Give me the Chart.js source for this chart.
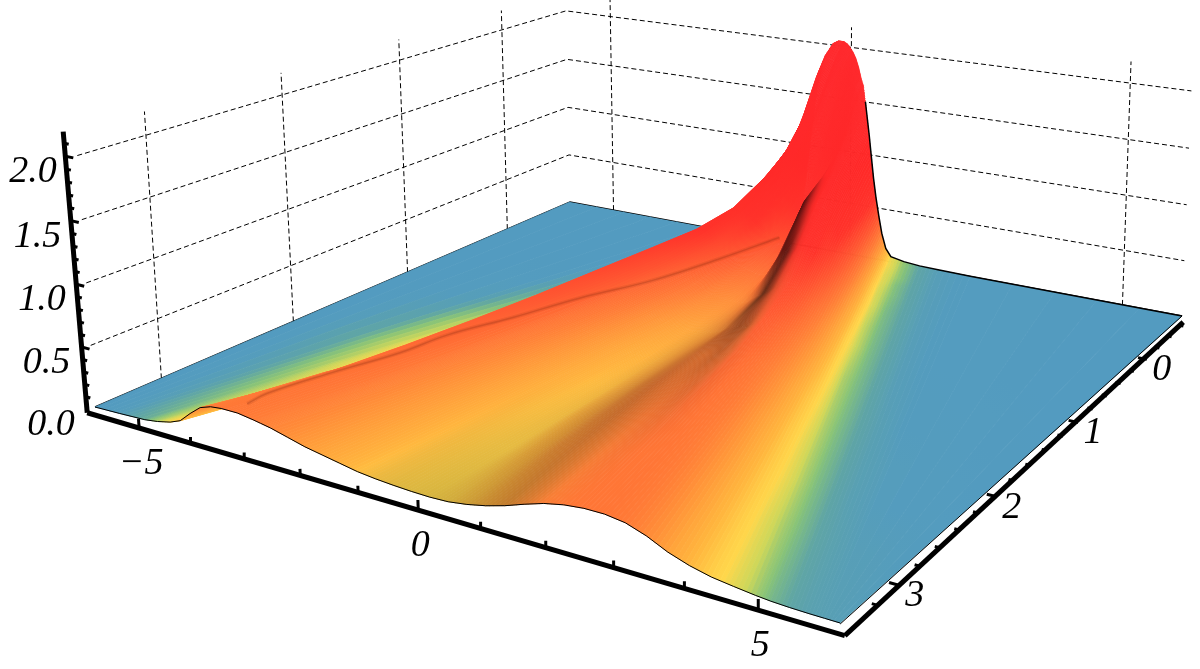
<!DOCTYPE html>
<html>
<head>
<meta charset="utf-8">
<style>
  html, body { margin: 0; padding: 0; background: #fff; }
  canvas { display: block; }
</style>
<script src="https://cdn.jsdelivr.net/npm/chart.js@4"></script>
</head>
<body>
<canvas id="surfaceChart" width="1200" height="669"></canvas>
<script>
// data range of the box
const xMin = -6, xMax = 6, tMin = -0.7, tMax = 3.45, zTop = 2.19;

// t value of each row along the rays
const rowT = [-0.7, -0.62, -0.53, -0.41, -0.29, -0.12, 0.13, 0.42, 0.75, 1.17, 1.58, 2.0, 2.41, 2.83, 3.45];

// every ray runs from x at t = tMin to x at t = tMax
const rayStartX = [-6, -3, -1.7, -1.3, -1.08, -0.94, -0.8, -0.64, -0.5, -0.35, -0.25, -0.15, -0.12, -0.08, -0.04, 0, 0.03, 0.05, 0.07, 0.09, 0.11, 0.13, 0.15, 0.17, 0.19, 0.22, 0.24, 0.26, 0.28, 0.3, 0.33, 0.36, 0.4, 0.45, 0.5, 0.56, 0.62, 0.7, 0.8, 1.05, 1.35, 1.7, 2.3, 6];
const rayEndX = [-6, -5.5, -5, -4.75, -4.5, -4.3, -4.1, -3.9, -3.7, -3.5, -3.2, -2.9, -2.78, -2.6, -2.3, -2, -1.7, -1.4, -1.1, -0.8, -0.5, -0.2, 0.1, 0.4, 0.7, 1, 1.3, 1.6, 1.9, 2.2, 2.5, 2.8, 3.1, 3.4, 3.7, 4, 4.3, 4.6, 4.9, 5.1, 5.35, 5.6, 5.8, 6];

// surface height along each ray, one value per row
const rayHeights = [
  [0, 0, 0, 0, 0, 0, 0, 0, 0, 0, 0, 0, 0, 0, 0],
  [0, 0, 0, 0, 0, 0, 0, 0.002, 0.004, 0.007, 0.011, 0.013, 0.011, 0.009, 0.006],
  [0.002, 0.002, 0.004, 0.005, 0.007, 0.01, 0.012, 0.014, 0.018, 0.026, 0.034, 0.035, 0.03, 0.024, 0.015],
  [0.015, 0.016, 0.018, 0.02, 0.022, 0.027, 0.03, 0.035, 0.04, 0.05, 0.055, 0.055, 0.045, 0.035, 0.03],
  [0.1, 0.085, 0.07, 0.06, 0.055, 0.055, 0.06, 0.065, 0.07, 0.08, 0.08, 0.07, 0.06, 0.05, 0.055],
  [0.42, 0.32, 0.25, 0.17, 0.13, 0.11, 0.1, 0.11, 0.12, 0.12, 0.1, 0.09, 0.08, 0.08, 0.09],
  [1, 0.75, 0.55, 0.38, 0.3, 0.27, 0.27, 0.25, 0.21, 0.17, 0.14, 0.12, 0.11, 0.13, 0.17],
  [1.65, 1.3, 1, 0.7, 0.52, 0.42, 0.38, 0.34, 0.28, 0.24, 0.2, 0.17, 0.15, 0.2, 0.24],
  [1.9, 1.7, 1.42, 0.98, 0.8, 0.66, 0.55, 0.48, 0.4, 0.34, 0.3, 0.26, 0.22, 0.27, 0.27],
  [2.02, 1.88, 1.62, 1.3, 1.08, 0.9, 0.7, 0.6, 0.55, 0.49, 0.43, 0.38, 0.34, 0.31, 0.28],
  [2.05, 1.9, 1.7, 1.42, 1.18, 0.96, 0.74, 0.6, 0.5, 0.44, 0.4, 0.35, 0.32, 0.3, 0.28],
  [2.05, 1.88, 1.66, 1.37, 1.12, 0.9, 0.68, 0.54, 0.44, 0.37, 0.33, 0.3, 0.28, 0.27, 0.26],
  [2.04, 1.87, 1.65, 1.35, 1.1, 0.88, 0.66, 0.5, 0.4, 0.325, 0.29, 0.27, 0.255, 0.25, 0.25],
  [2.03, 1.86, 1.62, 1.32, 1.06, 0.84, 0.62, 0.47, 0.37, 0.3, 0.27, 0.25, 0.24, 0.235, 0.235],
  [2.01, 1.84, 1.58, 1.27, 1.0, 0.78, 0.58, 0.43, 0.33, 0.27, 0.24, 0.22, 0.21, 0.2, 0.2],
  [1.98, 1.82, 1.55, 1.22, 0.95, 0.73, 0.54, 0.4, 0.3, 0.24, 0.21, 0.19, 0.18, 0.17, 0.165],
  [1.96, 1.8, 1.52, 1.18, 0.9, 0.69, 0.5, 0.37, 0.28, 0.21, 0.18, 0.165, 0.155, 0.15, 0.14],
  [1.94, 1.78, 1.5, 1.15, 0.87, 0.66, 0.47, 0.34, 0.25, 0.19, 0.16, 0.145, 0.135, 0.125, 0.115],
  [1.92, 1.76, 1.48, 1.13, 0.85, 0.63, 0.45, 0.32, 0.23, 0.17, 0.14, 0.125, 0.115, 0.1, 0.09],
  [1.9, 1.75, 1.47, 1.12, 0.84, 0.62, 0.44, 0.31, 0.22, 0.155, 0.125, 0.11, 0.095, 0.085, 0.075],
  [1.87, 1.73, 1.46, 1.12, 0.85, 0.62, 0.44, 0.3, 0.21, 0.145, 0.115, 0.095, 0.085, 0.075, 0.065],
  [1.84, 1.71, 1.45, 1.13, 0.87, 0.64, 0.44, 0.3, 0.205, 0.14, 0.11, 0.09, 0.08, 0.068, 0.058],
  [1.81, 1.7, 1.45, 1.15, 0.9, 0.68, 0.48, 0.31, 0.21, 0.14, 0.11, 0.09, 0.078, 0.065, 0.055],
  [1.77, 1.68, 1.45, 1.18, 0.95, 0.76, 0.58, 0.36, 0.22, 0.15, 0.13, 0.12, 0.11, 0.09, 0.06],
  [1.73, 1.66, 1.46, 1.22, 1.02, 0.9, 0.78, 0.47, 0.25, 0.17, 0.16, 0.15, 0.14, 0.12, 0.08],
  [1.68, 1.62, 1.46, 1.26, 1.1, 1.0, 0.88, 0.56, 0.3, 0.2, 0.2, 0.2, 0.19, 0.17, 0.11],
  [1.65, 1.58, 1.46, 1.3, 1.17, 1.02, 0.85, 0.55, 0.33, 0.25, 0.24, 0.24, 0.22, 0.2, 0.15],
  [1.58, 1.52, 1.42, 1.3, 1.18, 1.04, 0.85, 0.57, 0.37, 0.27, 0.25, 0.25, 0.24, 0.22, 0.2],
  [1.5, 1.46, 1.38, 1.27, 1.16, 1.04, 0.88, 0.62, 0.42, 0.28, 0.26, 0.26, 0.26, 0.25, 0.245],
  [1.42, 1.39, 1.32, 1.22, 1.12, 1.01, 0.87, 0.64, 0.46, 0.33, 0.28, 0.28, 0.28, 0.28, 0.275],
  [1.3, 1.27, 1.22, 1.14, 1.05, 0.96, 0.84, 0.64, 0.48, 0.39, 0.34, 0.32, 0.3, 0.29, 0.29],
  [1.18, 1.15, 1.11, 1.04, 0.97, 0.88, 0.78, 0.6, 0.46, 0.37, 0.32, 0.3, 0.29, 0.29, 0.29],
  [1.0, 0.98, 0.95, 0.9, 0.84, 0.77, 0.68, 0.53, 0.41, 0.33, 0.29, 0.28, 0.27, 0.27, 0.27],
  [0.78, 0.76, 0.74, 0.7, 0.66, 0.61, 0.55, 0.44, 0.34, 0.28, 0.25, 0.24, 0.23, 0.225, 0.22],
  [0.6, 0.58, 0.57, 0.54, 0.51, 0.47, 0.42, 0.35, 0.28, 0.23, 0.2, 0.18, 0.17, 0.16, 0.15],
  [0.42, 0.41, 0.4, 0.38, 0.36, 0.33, 0.3, 0.25, 0.2, 0.17, 0.14, 0.125, 0.115, 0.105, 0.1],
  [0.26, 0.25, 0.24, 0.23, 0.22, 0.2, 0.18, 0.15, 0.13, 0.11, 0.09, 0.08, 0.075, 0.07, 0.065],
  [0.12, 0.12, 0.11, 0.105, 0.1, 0.09, 0.085, 0.075, 0.065, 0.06, 0.055, 0.05, 0.05, 0.045, 0.045],
  [0.05, 0.05, 0.05, 0.045, 0.045, 0.04, 0.04, 0.035, 0.035, 0.03, 0.03, 0.03, 0.03, 0.028, 0.027],
  [0.025, 0.025, 0.025, 0.025, 0.022, 0.022, 0.02, 0.02, 0.02, 0.02, 0.02, 0.02, 0.02, 0.02, 0.018],
  [0.012, 0.012, 0.012, 0.012, 0.012, 0.012, 0.012, 0.012, 0.012, 0.012, 0.012, 0.012, 0.012, 0.012, 0.012],
  [0.007, 0.007, 0.007, 0.007, 0.007, 0.007, 0.007, 0.007, 0.007, 0.007, 0.008, 0.008, 0.008, 0.009, 0.009],
  [0.004, 0.004, 0.004, 0.004, 0.004, 0.004, 0.004, 0.004, 0.004, 0.005, 0.005, 0.006, 0.006, 0.007, 0.008],
  [0, 0, 0, 0, 0, 0, 0, 0, 0, 0, 0.001, 0.002, 0.003, 0.005, 0.007]
];

// darkening of the streaks: ray index, then one value per row
const rayShade = {
  19: [0, 0, 0, 0, 0, 0, 0, 0, 0, 0, 0, 0, 0.02, 0.05, 0.08],
  20: [0, 0, 0, 0, 0, 0, 0, 0, 0, 0, 0, 0, 0.03, 0.07, 0.12],
  21: [0, 0, 0, 0, 0, 0, 0, 0, 0, 0, 0, 0.02, 0.05, 0.09, 0.14],
  22: [0, 0, 0, 0, 0, 0, 0, 0, 0, 0.03, 0.05, 0.06, 0.08, 0.1, 0.16],
  23: [0, 0, 0, 0, 0, 0, 0.08, 0.02, 0.03, 0.07, 0.09, 0.11, 0.13, 0.14, 0.18],
  24: [0, 0, 0, 0, 0, 0, 0.35, 0.2, 0.08, 0.11, 0.14, 0.17, 0.18, 0.18, 0.2],
  25: [0, 0, 0, 0, 0, 0.05, 0.68, 0.62, 0.22, 0.17, 0.2, 0.22, 0.22, 0.21, 0.22],
  26: [0, 0, 0, 0, 0, 0, 0.25, 0.6, 0.62, 0.3, 0.22, 0.23, 0.23, 0.22, 0.24],
  27: [0, 0, 0, 0, 0, 0, 0.05, 0.25, 0.42, 0.4, 0.18, 0.16, 0.15, 0.14, 0.15],
  28: [0, 0, 0, 0, 0, 0, 0, 0.05, 0.15, 0.32, 0.25, 0.14, 0.08, 0.04, 0.02],
  29: [0, 0, 0, 0, 0, 0, 0, 0, 0.03, 0.1, 0.15, 0.14, 0.08, 0.03, 0],
  30: [0, 0, 0, 0, 0, 0, 0, 0, 0, 0, 0.04, 0.05, 0.03, 0, 0]
};

// faint crease below the crest, read as points on the surface
const creaseT = [0, 0.42, 0.88, 1.375, 1.79, 2.2, 2.41, 2.83, 3.24, 3.4];
const creaseX = [-0.3, -0.75, -1.2, -1.65, -2.07, -2.4, -2.82, -3.06, -3.21, -3.15];
const creaseZ = [0.43, 0.37, 0.335, 0.357, 0.34, 0.355, 0.265, 0.29, 0.32, 0.33];

// colour by height
const paletteZ = [0, 0.005, 0.012, 0.022, 0.035, 0.055, 0.1, 0.17, 0.26, 0.4, 0.6, 1, 2.2];
const paletteRGB = [[83, 155, 192], [84, 156, 190], [95, 165, 165], [135, 195, 120], [205, 215, 90], [255, 215, 75], [255, 182, 62], [255, 155, 58], [255, 125, 55], [255, 90, 50], [255, 50, 42], [255, 40, 40], [255, 40, 45]];

// tick marks
const xTickLabels = ['\u22125', '0', '5'];
const xTickValues = [-5, 0, 5];
const tTickLabels = ['0', '1', '2', '3'];
const tTickValues = [0, 1, 2, 3];
const zTickLabels = ['0.0', '0.5', '1.0', '1.5', '2.0'];
const zTickValues = [0, 0.5, 1, 1.5, 2];

// fixed view of the box, same numbers as the picture
function project(x, t, z) {
    const u = (x - xMin) / (xMax - xMin);
    const v = (t - tMin) / (tMax - tMin);
    const w = 1 - 0.15765 * u - 0.25089 * v - 0.0095 * z;
    return {
        x: (425.7 * u - 498.8 * v + 570 - 7.38 * z) / w,
        y: (64.2 * u + 102.9 * v + 202 - 95.67 * z) / w
    };
}

function rayX(j, t) {
    return rayStartX[j] + (rayEndX[j] - rayStartX[j]) * (t - tMin) / (tMax - tMin);
}

function rayPoints(j) {
    return rowT.map((t, r) => project(rayX(j, t), t, rayHeights[j][r]));
}

function colourFor(z, shade) {
    let i = 0;
    while (i < paletteZ.length - 2 && z > paletteZ[i + 1]) i++;
    const f = Math.min(1, (z - paletteZ[i]) / (paletteZ[i + 1] - paletteZ[i]));
    const rgb = paletteRGB[i].map((c, k) => (c + (paletteRGB[i + 1][k] - c) * f) * (1 - shade));
    return 'rgb(' + rgb.map(Math.round).join(',') + ')';
}

// corners of one slice of the flat quad strip between ray j and ray j + 1
function slicePoints(j, f0, f1) {
    const a = rayPoints(j), b = rayPoints(j + 1);
    const mix = f => a.map((p, r) => ({ x: p.x + (b[r].x - p.x) * f, y: p.y + (b[r].y - p.y) * f }));
    return mix(f0).concat(mix(f1).reverse());
}

// gradient along one slice, so the colour runs smoothly across rows and rays
function sliceGradient(chart, j, f) {
    const sx = chart.scales.x, sy = chart.scales.y;
    if (!sx || !sy || !chart.chartArea) return '#539bc0';
    const a = rayPoints(j), b = rayPoints(j + 1);
    const mid = a.map((p, r) => ({
        x: sx.getPixelForValue(p.x + (b[r].x - p.x) * f),
        y: sy.getPixelForValue(p.y + (b[r].y - p.y) * f)
    }));
    const first = mid[0], last = mid[mid.length - 1];
    if (!isFinite(first.x) || !isFinite(first.y)) return '#539bc0';
    const dx = last.x - first.x, dy = last.y - first.y;
    const len2 = Math.max(1, dx * dx + dy * dy);
    const g = chart.ctx.createLinearGradient(first.x, first.y, last.x, last.y);
    let prev = 0;
    mid.forEach((p, r) => {
        const off = Math.min(1, Math.max(prev, ((p.x - first.x) * dx + (p.y - first.y) * dy) / len2));
        prev = off;
        const z = rayHeights[j][r] + (rayHeights[j + 1][r] - rayHeights[j][r]) * f;
        const shadeA = rayShade[j] ? rayShade[j][r] : 0;
        const shadeB = rayShade[j + 1] ? rayShade[j + 1][r] : 0;
        g.addColorStop(off, colourFor(z, shadeA + (shadeB - shadeA) * f));
    });
    return g;
}

function line3d(points, color, width, dash) {
    return {
        data: points,
        showLine: true,
        fill: false,
        borderColor: color,
        borderWidth: width,
        borderDash: dash || [],
        pointRadius: 0,
        borderCapStyle: 'butt'
    };
}

const datasets = [];

// dashed grid on the two back walls
const gridDash = [5, 3];
[0.5, 1, 1.5, 2].forEach(z => {
    datasets.push(line3d([project(xMin, tMax, z), project(xMin, tMin, z), project(xMax, tMin, z)], '#000', 1, gridDash));
});
[0, 1, 2, 3].forEach(t => {
    datasets.push(line3d([project(xMin, t, 0), project(xMin, t, zTop)], '#000', 1, gridDash));
});
[-5, 0, 5].forEach(x => {
    datasets.push(line3d([project(x, tMin, 0), project(x, tMin, zTop)], '#000', 1, gridDash));
});

// back outline of the floor, the surface hides part of it
datasets.push(line3d([project(xMin, tMax, 0), project(xMin, tMin, 0), project(xMax, tMin, 0)], '#000', 1.5));

// surface, painted from the far side to the near side
const slices = 5;
for (let j = 0; j < rayStartX.length - 1; j++) {
    for (let k = 0; k < slices; k++) {
        const f = (k + 0.5) / slices;
        datasets.push({
            data: slicePoints(j, k / slices, (k + 1) / slices),
            showLine: true,
            fill: 'shape',
            pointRadius: 0,
            borderWidth: 0.8,
            backgroundColor: ctx => sliceGradient(ctx.chart, j, f),
            borderColor: ctx => sliceGradient(ctx.chart, j, f)
        });
    }
}

// crease on the surface
const crease = creaseT.map((t, i) => project(creaseX[i], t, creaseZ[i]));
datasets.push(Object.assign(line3d(crease, 'rgba(130,40,15,0.13)', 4), { tension: 0.4 }));
datasets.push(Object.assign(line3d(crease, 'rgba(110,30,10,0.2)', 1.5), { tension: 0.4 }));

// mesh outline
const frontEdge = rayStartX.map((_, j) => project(rayX(j, tMax), tMax, rayHeights[j][rowT.length - 1]));
const backEdge = rayStartX.map((_, j) => project(rayX(j, tMin), tMin, rayHeights[j][0])).slice(28);
datasets.push(line3d(frontEdge, '#000', 1));
datasets.push(line3d(backEdge, '#000', 1.5));
datasets.push(line3d([project(xMax, tMin, 0), project(xMax, tMax, 0)], '#000', 1));

// thick axes
const axisX = xMax + 0.12, axisT = tMax + 0.04, axisZ = -0.03;
datasets.push(line3d([project(xMin - 0.04, axisT, axisZ), project(axisX, axisT, axisZ)], '#000', 5));
datasets.push(line3d([project(axisX, axisT, axisZ), project(xMax + 0.06, tMin + 0.04, axisZ)], '#000', 5));
datasets.push(line3d([project(xMin - 0.04, axisT, axisZ), project(xMin - 0.12, axisT, zTop)], '#000', 5));

// ticks
for (let x = -5; x <= 5; x++) {
    const top = x % 5 === 0 ? 0.045 : 0.02;
    datasets.push(line3d([project(x, axisT, axisZ), project(x, axisT, top)], '#000', 3));
}
for (let n = -3; n <= 16; n++) {
    const t = n * 0.2;
    const reach = n % 5 === 0 ? 0.14 : 0.08;
    datasets.push(line3d([project(axisX, t, axisZ), project(axisX - reach, t, axisZ)], '#000', 3));
}
for (let n = 1; n <= 21; n++) {
    const z = n * 0.1;
    const start = xMin - 0.04 - 0.08 * z / zTop;
    const reach = n % 5 === 0 ? 0.16 : 0.09;
    datasets.push(line3d([project(start, axisT, z), project(start + reach, axisT, z)], '#000', 3));
}

// tick labels sit at a fixed pixel offset from the axis
const tickText = {
    id: 'tickText',
    afterDraw(chart) {
        const ctx = chart.ctx, sx = chart.scales.x, sy = chart.scales.y;
        ctx.save();
        ctx.font = 'italic 38px "Liberation Serif"';
        ctx.fillStyle = '#000';
        ctx.textAlign = 'center';
        ctx.textBaseline = 'middle';
        const put = (text, p, ox, oy) => ctx.fillText(text, sx.getPixelForValue(p.x) + ox, sy.getPixelForValue(p.y) + oy);
        xTickLabels.forEach((s, i) => put(s, project(xTickValues[i], axisT, axisZ), 2, 36));
        tTickLabels.forEach((s, i) => put(s, project(axisX, tTickValues[i], axisZ), 15, 11));
        zTickLabels.forEach((s, i) => put(s, project(xMin, axisT, zTickValues[i]), -38, 15));
        ctx.restore();
    }
};

// chart draws the first dataset on top, so hand them over in reverse
new Chart(document.getElementById('surfaceChart').getContext('2d'), {
    type: 'scatter',
    data: { datasets: datasets.reverse() },
    plugins: [tickText],
    options: {
        responsive: false,
        animation: false,
        events: [],
        layout: { padding: 0 },
        plugins: { legend: { display: false }, tooltip: { enabled: false } },
        scales: {
            x: { type: 'linear', min: 0, max: 1200, display: false },
            y: { type: 'linear', min: 0, max: 669, reverse: true, display: false }
        }
    }
});
</script>
</body>
</html>
